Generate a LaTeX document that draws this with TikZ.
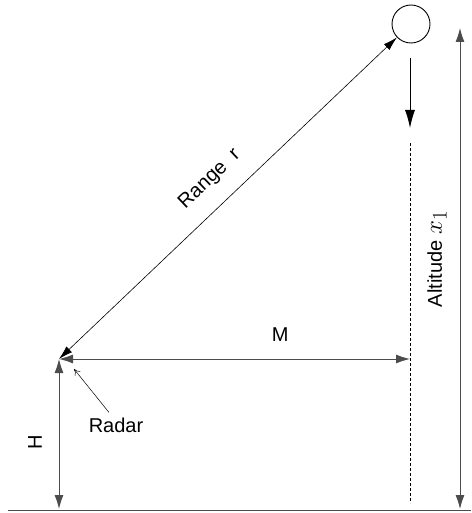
\documentclass[tikz,border=0pt]{standalone}
\usepackage{fontspec}
\setmainfont{Liberation Sans}
\usetikzlibrary{positioning,arrows.meta,calc}

\begin{document}
\begin{tikzpicture}[
  x=1pt, y=-1pt,
  dim arrow/.style={{Latex[length=14pt,width=9pt]}-{Latex[length=14pt,width=9pt]}, draw=black!70, line width=0.9pt},
  range arrow/.style={{Latex[length=14pt,width=8pt]}-{Latex[length=14pt,width=8pt]}, line width=0.6pt},
  fall arrow/.style={-{Latex[length=18pt,width=10pt]}, line width=0.9pt},
  pointer/.style={-{To[length=6pt,width=7pt]}, line width=0.5pt},
  track/.style={dashed, dash pattern=on 3pt off 2pt, line width=0.7pt},
  ground line/.style={draw=black!70, line width=0.9pt},
  dim label/.style={font=\fontsize{20}{22}\selectfont, inner sep=2pt}
]
\path[use as bounding box] (0,0) rectangle (471,513);

\node[draw, circle, minimum size=38pt, inner sep=0pt, line width=0.9pt] (target) at (411,24) {};

\coordinate (radar) at (59,359);
\coordinate (ground west) at (8,510);
\coordinate (ground east) at (471,510);
\coordinate (H foot) at (59,509);
\coordinate (track top) at (410,143);
\coordinate (track mid) at (410,359);
\coordinate (track bottom) at (410,503);
\coordinate (fall start) at (410,58);
\coordinate (fall end) at (410,128);
\coordinate (alt top) at (460,28);
\coordinate (alt bottom) at (460,509);

\draw[ground line] (ground west) -- (ground east);
\draw[track] (track top) -- (track bottom);
\draw[fall arrow] (fall start) -- (fall end);

\draw[range arrow] (radar) -- node[dim label, pos=0.5, sloped, above=15pt] {Range~~r} (target);
\draw[dim arrow] (radar) -- node[dim label, pos=0.63, above=15pt] {M} (track mid);
\draw[dim arrow] (radar) -- (H foot);
\node[dim label, rotate=90] (H label) at (35,442) {H};

\draw[dim arrow] (alt top) -- (alt bottom);
\node[dim label, rotate=90] (altitude) at (437,259) {Altitude {\fontsize{32}{34}\selectfont$x_1$}};

\node[dim label] (radar label) at (116,425) {Radar};
\draw[pointer] ($(radar label.north)+(-7,-3)$) -- (74,369);
\end{tikzpicture}
\end{document}
